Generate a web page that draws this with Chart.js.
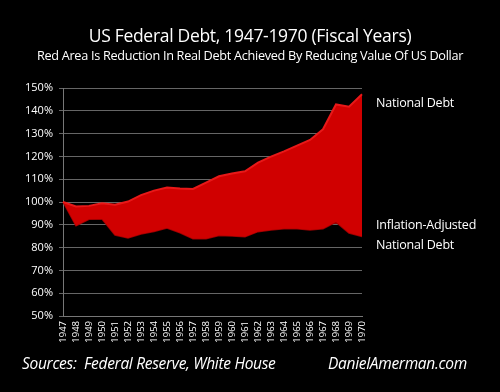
<!DOCTYPE html>
<html>
<head>
<meta charset="utf-8">
<script src="https://cdn.jsdelivr.net/npm/chart.js@4/dist/chart.umd.min.js"></script>
<style>
  html, body { margin:0; padding:0; background:#000; }
  #wrap { position:relative; width:500px; height:392px; background:#000; overflow:hidden; font-family:"Open Sans", "Lato", sans-serif; color:#fff; }
  canvas { position:absolute; left:0; top:0; }
  .t { position:absolute; white-space:nowrap; color:#fff; }
  #title { left:0; width:500px; text-align:center; top:23px; font-size:17.5px; letter-spacing:-0.3px; }
  #sub { left:0; width:500px; text-align:center; top:46px; font-size:12.7px; letter-spacing:-0.3px; }
  .lab { font-size:12.5px; letter-spacing:-0.2px; }
  .foot { font-style:italic; font-size:15.5px; top:352px; letter-spacing:-0.3px; }
</style>
</head>
<body>
<div id="wrap">
  <canvas id="c" width="500" height="392"></canvas>
  <div class="t" id="title">US Federal Debt, 1947-1970 (Fiscal Years)</div>
  <div class="t" id="sub">Red Area Is Reduction In Real Debt Achieved By Reducing Value Of US Dollar</div>
  <div class="t lab" style="left:376px; top:94px;">National Debt</div>
  <div class="t lab" style="left:376px; top:216px;">Inflation-Adjusted</div>
  <div class="t lab" style="left:376px; top:236px;">National Debt</div>
  <div class="t foot" style="left:22px;">Sources:&nbsp; Federal Reserve, White House</div>
  <div class="t foot" style="left:328px;">DanielAmerman.com</div>
</div>
<script>
const years = ["1947","1948","1949","1950","1951","1952","1953","1954","1955","1956","1957","1958","1959","1960","1961","1962","1963","1964","1965","1966","1967","1968","1969","1970"];
const nationalDebt = [100, 98, 98.3, 99.4, 98.8, 100.2, 103, 105, 106.4, 105.9, 105.7, 108.5, 111.3, 112.5, 113.5, 117.3, 119.9, 122.2, 124.7, 127.2, 131.9, 142.8, 141.8, 147.3];
const inflationAdjusted = [100, 89.6, 92.4, 92.5, 85.5, 84.2, 86, 87.1, 88.6, 86.5, 83.9, 83.9, 85.3, 85.1, 84.8, 87, 87.7, 88.3, 88.3, 87.7, 88.3, 91.2, 86.4, 84.9];
const yTicks = [50, 60, 70, 80, 90, 100, 110, 120, 130, 140, 150];

new Chart(document.getElementById('c'), {
  type: 'line',
  data: {
    labels: years,
    datasets: [
      {
        label: 'National Debt',
        data: nationalDebt,
        borderColor: 'rgb(232,24,24)',
        borderWidth: 2,
        backgroundColor: 'rgb(208,0,0)',
        fill: '+1',
        pointRadius: 0,
        tension: 0
      },
      {
        label: 'Inflation-Adjusted National Debt',
        data: inflationAdjusted,
        borderColor: 'rgb(150,0,0)',
        borderWidth: 1.5,
        backgroundColor: 'rgb(208,0,0)',
        fill: false,
        pointRadius: 0,
        tension: 0
      }
    ]
  },
  options: {
    responsive: false,
    animation: false,
    layout: { padding: { left: 0, right: 138, top: 88, bottom: 0 } },
    plugins: { legend: { display: false }, tooltip: { enabled: false } },
    scales: {
      x: {
        offset: false,
        grid: { display: false, drawTicks: true, tickLength: 3, color: '#777', drawOnChartArea: false },
        border: { display: true, color: '#777', width: 1 },
        ticks: {
          color: '#fff', font: { family: 'Open Sans', size: 9.5 }, maxRotation: 90, minRotation: 90,
          autoSkip: false, padding: 2
        },
        afterFit: s => { s.height = 76; }
      },
      y: {
        min: 50, max: 150,
        afterBuildTicks: s => { s.ticks = yTicks.map(v => ({ value: v })); },
        grid: { color: '#666', lineWidth: 1, tickLength: 4, drawTicks: true },
        border: { display: true, color: '#777', width: 1 },
        ticks: {
          color: '#fff', font: { family: 'Open Sans', size: 11 }, padding: 6,
          callback: v => v + '%'
        },
        afterFit: s => { s.width = 63; }
      }
    }
  }
});
</script>
</body>
</html>
